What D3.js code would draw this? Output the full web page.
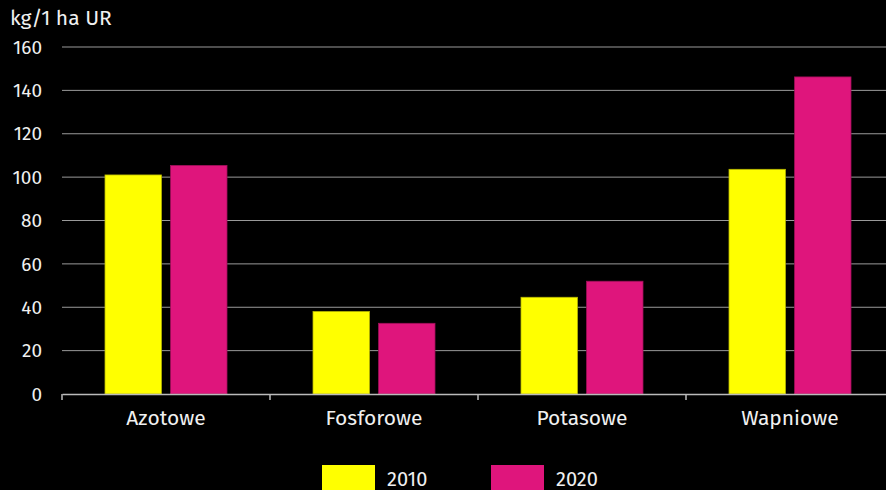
<!DOCTYPE html>
<html>
<head>
<meta charset="utf-8">
<script src="https://cdn.jsdelivr.net/npm/d3@7"></script>
<style>
  html, body { margin: 0; padding: 0; background: #000; }
  svg { display: block; }
  text { font-family: "Fira Sans", "Open Sans", "Noto Sans", sans-serif; fill: #f0f0f0; }
</style>
</head>
<body>
<div id="chart"></div>
<script>
// ============= Data =============
const categories = ["Azotowe", "Fosforowe", "Potasowe", "Wapniowe"];
const years = ["2010", "2020"];
const values2010 = [101, 38, 44.6, 103.6];
const values2020 = [105.4, 32.6, 52, 146.2];
const yTicks = [0, 20, 40, 60, 80, 100, 120, 140, 160];
const yTitle = "kg/1 ha UR";

const rows = categories.map((c, i) => ({ category: c, "2010": values2010[i], "2020": values2020[i] }));

const width = 886;
const height = 490;
const margin = { top: 47, right: -8, bottom: 96, left: 62 };

const color = d3.scaleOrdinal()
    .domain(years)
    .range(["#ffff00", "#df157c"]);
const strokeColor = d3.scaleOrdinal()
    .domain(years)
    .range(["#b8b800", "#a0105a"]);

const svg = d3.select("#chart")
    .append("svg")
    .attr("width", width)
    .attr("height", height);

// ============= Scales =============
const x = d3.scaleBand()
    .domain(categories)
    .range([margin.left, width - margin.right])
    .paddingInner(0)
    .paddingOuter(0);

const xInner = d3.scaleBand()
    .domain(years)
    .range([43, x.bandwidth() - 43])
    .paddingInner(0.14);

const y = d3.scaleLinear()
    .domain([0, 160])
    .range([height - margin.bottom, margin.top]);

// gridlines
svg.append("g")
    .selectAll("line")
    .data(yTicks.filter(d => d > 0))
    .join("line")
    .attr("x1", margin.left)
    .attr("x2", width)
    .attr("y1", d => y(d))
    .attr("y2", d => y(d))
    .attr("stroke", "#9a9a9a")
    .attr("stroke-width", 1);

// y tick labels
svg.append("g")
    .selectAll("text")
    .data(yTicks)
    .join("text")
    .attr("x", 42)
    .attr("y", d => y(d))
    .attr("dy", "0.35em")
    .attr("text-anchor", "end")
    .style("font-size", "19px")
    .text(d => d);

svg.append("text")
    .attr("x", 10)
    .attr("y", 25)
    .style("font-size", "21px")
    .text(yTitle);

// ============= Bars =============
svg.append("g")
    .selectAll("g")
    .data(rows)
    .join("g")
    .attr("transform", d => `translate(${x(d.category)},0)`)
    .selectAll("rect")
    .data(d => years.map(k => ({ key: k, value: d[k] })))
    .join("rect")
    .attr("x", d => xInner(d.key))
    .attr("width", xInner.bandwidth())
    .attr("y", d => y(d.value))
    .attr("height", d => y(0) - y(d.value))
    .attr("fill", d => color(d.key))
    .attr("stroke", d => strokeColor(d.key))
    .attr("stroke-width", 0.8);

// x axis
const xAxis = svg.append("g")
    .attr("transform", `translate(0,${y(0)})`)
    .call(d3.axisBottom(x).tickSize(0).tickPadding(16));
xAxis.select(".domain").attr("stroke", "#bbbbbb").attr("stroke-width", 1.5);
xAxis.selectAll("text")
    .style("font-size", "21px")
    .style("font-family", "'Fira Sans', 'Open Sans', 'Noto Sans', sans-serif")
    .attr("fill", "#f0f0f0");

// boundary ticks between categories
svg.append("g")
    .selectAll("line")
    .data(categories.concat(["end"]))
    .join("line")
    .attr("x1", (d, i) => margin.left + i * x.bandwidth())
    .attr("x2", (d, i) => margin.left + i * x.bandwidth())
    .attr("y1", y(0))
    .attr("y2", y(0) + 6)
    .attr("stroke", "#bbbbbb")
    .attr("stroke-width", 1.5);

// ============= Legend =============
const legend = svg.append("g")
    .selectAll("g")
    .data(years)
    .join("g")
    .attr("transform", (d, i) => `translate(${322 + i * 169},465)`);

legend.append("rect")
    .attr("width", 53)
    .attr("height", 30)
    .attr("fill", d => color(d));

legend.append("text")
    .attr("x", 65)
    .attr("y", 21)
    .style("font-size", "20px")
    .text(d => d);
</script>
</body>
</html>
